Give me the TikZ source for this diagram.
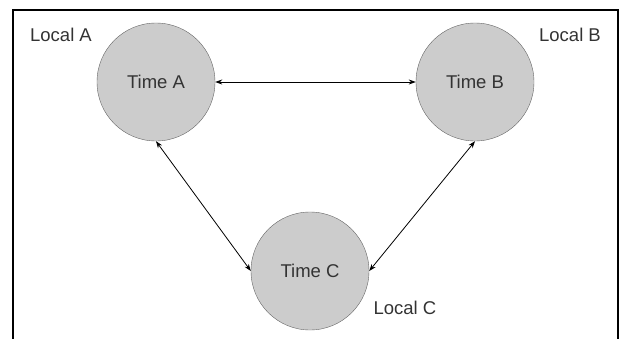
\documentclass[tikz,border=0pt]{standalone}
\usepackage{fontspec}
\setmainfont{Liberation Sans}
\usetikzlibrary{arrows.meta}
\definecolor{zonefill}{HTML}{CCCCCC}
\definecolor{zoneline}{HTML}{666666}
\begin{document}
\begin{tikzpicture}[
        x=1pt, y=-1pt,
        zone/.style={draw=zoneline, fill=zonefill, circle, minimum size=118pt, inner sep=0pt, font=\fontsize{18.5}{21}\selectfont, text=black!80},
        place/.style={font=\fontsize{18.5}{21}\selectfont, text=black!80, inner sep=0pt},
        ar/.style={{Stealth[length=7pt,width=5pt]}-{Stealth[length=7pt,width=5pt]}, line width=0.8pt},
    ]
    \useasboundingbox (0,0) rectangle (622,338);
    \draw[line width=1.5pt] (13,340) -- (13,10) -- (618,10) -- (618,340);

    \node[zone](ta) at (156,82) {Time A};
    \node[zone](tb) at (475,82) {Time B};
    \node[zone](tc) at (310,271) {Time C};

    \node[place](la) at (61,35) {Local A};
    \node[place](lb) at (570,35) {Local B};
    \node[place](lc) at (405,308) {Local C};

    \draw[ar] (ta) -- (tb);
    \draw[ar] (ta.south) -- (tc.west);
    \draw[ar] (tb.south) -- (tc.east);
\end{tikzpicture}
\end{document}
